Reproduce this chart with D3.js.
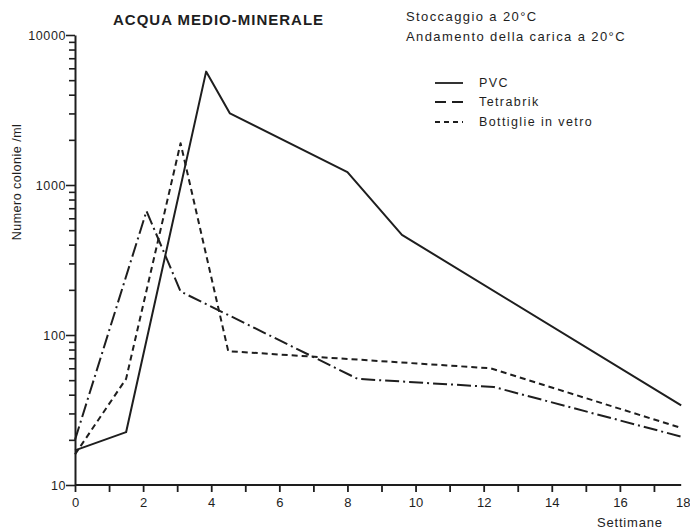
<!DOCTYPE html>
<html>
<head>
<meta charset="utf-8">
<script src="https://cdn.jsdelivr.net/npm/d3@7"></script>
<style>
  html, body { margin: 0; padding: 0; background: #fff; }
  svg { display: block; font-family: "Liberation Sans", Arial, sans-serif; }
</style>
</head>
<body>
<svg id="chart" width="690" height="530"></svg>
<script>
// ---- data ----
const seriesNames = ["PVC", "Tetrabrik", "Bottiglie in vetro"];
const pvcWeeks = [0, 1.5, 3.85, 4.55, 8, 9.6, 17.8];
const pvcValues = [17, 22.5, 5700, 3000, 1220, 465, 34];
const tetraWeeks = [0, 2.1, 3.1, 8.3, 12.3, 17.8];
const tetraValues = [20, 670, 195, 51, 45, 21];
const vetroWeeks = [0, 1.5, 3.1, 4.5, 12.2, 17.8];
const vetroValues = [16, 51, 1900, 78, 60, 24];
const xTicks = [0,1,2,3,4,5,6,7,8,9,10,11,12,13,14,15,16,17,18];
const yLabelTicks = [10, 100, 1000, 10000];
const titleText = "ACQUA MEDIO-MINERALE";
const subtitle1 = "Stoccaggio a 20°C";
const subtitle2 = "Andamento della carica a 20°C";
const yTitle = "Numero colonie /ml";
const xTitle = "Settimane";

// ---- layout ----
const svg = d3.select("#chart");
const ink = "#1e1e1e";
const x = d3.scaleLinear().domain([0, 18]).range([75, 688]);
const y = d3.scaleLog().domain([10, 10000]).range([485, 35]);

const dashes = ["none", "14,4,2,4", "6,4"];
const series = [
  {name: seriesNames[0], w: pvcWeeks, v: pvcValues, dash: dashes[0]},
  {name: seriesNames[1], w: tetraWeeks, v: tetraValues, dash: dashes[1]},
  {name: seriesNames[2], w: vetroWeeks, v: vetroValues, dash: dashes[2]}
];

// x axis
const xAxis = d3.axisBottom(x)
  .tickValues(xTicks)
  .tickSize(7)
  .tickSizeOuter(0)
  .tickFormat(d => d % 2 === 0 ? d : "");
const gx = svg.append("g").attr("transform", `translate(0,${y(10)})`).call(xAxis);
gx.select(".domain").remove();
gx.append("line")
  .attr("x1", x(0)).attr("x2", x(17.8))
  .attr("stroke", ink).attr("stroke-width", 2);
gx.selectAll(".tick line").attr("stroke", ink).attr("stroke-width", 1.8)
  .filter(d => d === 18).remove();
gx.selectAll(".tick text")
  .attr("fill", ink).attr("font-size", 13).attr("dy", "0.95em")
  .attr("font-family", "Liberation Sans, Arial, sans-serif")
  .filter(d => d === 18).attr("text-anchor", "end").attr("x", 2);

// y axis
const yAllTicks = y.ticks();
const yAxis = d3.axisLeft(y)
  .tickValues(yAllTicks)
  .tickSize(6)
  .tickSizeOuter(0)
  .tickFormat(d => yLabelTicks.includes(d) ? d : "");
const gy = svg.append("g").attr("transform", `translate(${x(0)},0)`).call(yAxis);
gy.select(".domain").attr("stroke", ink).attr("stroke-width", 2);
gy.selectAll(".tick line").attr("stroke", ink).attr("stroke-width", 1.6)
  .attr("x2", d => yLabelTicks.includes(d) ? -9 : -6);
gy.selectAll(".tick text")
  .attr("fill", ink).attr("font-size", 12.5).attr("x", -9)
  .attr("letter-spacing", "0.6px")
  .attr("font-family", "Liberation Sans, Arial, sans-serif");

// lines
const line = d3.line().x(d => x(d[0])).y(d => y(d[1]));
series.forEach(s => {
  svg.append("path")
    .datum(s.w.map((w, i) => [w, s.v[i]]))
    .attr("d", line)
    .attr("fill", "none")
    .attr("stroke", ink)
    .attr("stroke-width", 2)
    .attr("stroke-linejoin", "round")
    .attr("stroke-dasharray", s.dash);
});

// titles
svg.append("text").attr("x", 113).attr("y", 25)
  .attr("font-size", 15).attr("font-weight", "bold").attr("fill", ink)
  .attr("letter-spacing", "1px")
  .text(titleText);
svg.append("text").attr("x", 406).attr("y", 21)
  .attr("font-size", 13).attr("fill", ink).attr("letter-spacing", "1.4px")
  .text(subtitle1);
svg.append("text").attr("x", 406).attr("y", 41)
  .attr("font-size", 13).attr("fill", ink).attr("letter-spacing", "1.4px")
  .text(subtitle2);

// axis titles
svg.append("text")
  .attr("transform", "translate(21,182) rotate(-90)")
  .attr("text-anchor", "middle")
  .attr("font-size", 12.5).attr("fill", ink).attr("letter-spacing", "0.5px")
  .text(yTitle);
svg.append("text").attr("x", 597).attr("y", 527)
  .attr("font-size", 13).attr("fill", ink).attr("letter-spacing", "0.8px")
  .text(xTitle);

// legend
const legY = [83, 102, 122];
const leg = svg.append("g");
series.forEach((s, i) => {
  leg.append("line")
    .attr("x1", 435).attr("x2", 463)
    .attr("y1", legY[i]).attr("y2", legY[i])
    .attr("stroke", ink).attr("stroke-width", 1.8)
    .attr("stroke-dasharray", i === 1 ? "11,6" : (i === 2 ? "5,4" : "none"));
  leg.append("text")
    .attr("x", 479).attr("y", legY[i] + 4)
    .attr("font-size", 12.5).attr("fill", ink).attr("letter-spacing", "1.4px")
    .text(s.name);
});
</script>
</body>
</html>
